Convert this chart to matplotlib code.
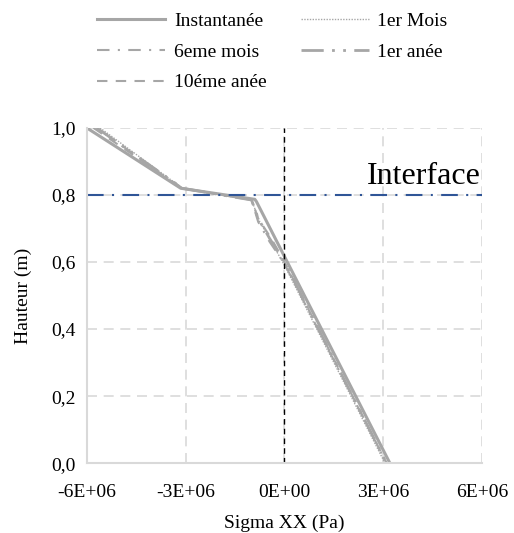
import matplotlib
matplotlib.use("Agg")
import matplotlib.pyplot as plt
from matplotlib.ticker import FuncFormatter, MultipleLocator

plt.rcParams['font.family'] = ['Liberation Serif', 'DejaVu Serif']

# series (Sigma XX in Pa, height in m)
series_names = ['Instantanée', '1er Mois', '6eme mois', '1er anée', '10éme anée']
sigma_inst = [-6.0e6, -3.15e6, -0.9e6, -0.85e6, 3.2e6]
h_inst = [1.0, 0.82, 0.787, 0.78, 0.0]
sigma_1m = [-5.6e6, -3.1e6, -1.0e6, -0.75e6, -0.4e6, 0.0, 3.05e6]
h_1m = [1.0, 0.82, 0.785, 0.72, 0.66, 0.59, 0.0]
sigma_6m = [-5.7e6, -3.1e6, -1.0e6, -0.8e6, -0.45e6, 0.0, 3.1e6]
h_6m = [1.0, 0.82, 0.785, 0.72, 0.66, 0.595, 0.0]
sigma_1a = [-5.7e6, -3.1e6, -1.0e6, -0.8e6, -0.45e6, 0.0, 3.1e6]
h_1a = [1.0, 0.82, 0.785, 0.73, 0.67, 0.60, 0.0]
sigma_10a = [-5.8e6, -3.1e6, -1.0e6, -0.8e6, -0.4e6, 0.0, 3.1e6]
h_10a = [1.0, 0.82, 0.785, 0.73, 0.67, 0.60, 0.0]
interface_h = 0.8

fig = plt.figure(figsize=(5.14, 5.33), dpi=100)
ax = fig.add_axes([0.169, 0.131, 0.769, 0.629])

grey = '#a6a6a6'
l0, = ax.plot(sigma_inst, h_inst, color=grey, lw=2.2, ls='-', label=series_names[0])
l1, = ax.plot(sigma_1m, h_1m, color=grey, lw=1.0, ls=(0, (1, 1)), label=series_names[1])
l2, = ax.plot(sigma_6m, h_6m, color=grey, lw=1.5, ls=(0, (6, 4, 1, 4)), label=series_names[2])
l3, = ax.plot(sigma_1a, h_1a, color=grey, lw=2.0, ls=(0, (8, 3, 1, 3, 1, 3)), label=series_names[3])
l4, = ax.plot(sigma_10a, h_10a, color=grey, lw=1.5, ls=(0, (5, 4)), label=series_names[4])

ax.axhline(interface_h, color='#2f5597', lw=1.5, ls=(0, (8, 4, 1, 4)))
ax.axvline(0, color='black', lw=1.0, ls=(0, (4, 3)))
ax.text(5.95e6, 0.812, 'Interface', ha='right', va='bottom', fontsize=23)

ax.set_xlim(-6e6, 6e6)
ax.set_ylim(0, 1)
ax.xaxis.set_major_locator(MultipleLocator(3e6))
ax.yaxis.set_major_locator(MultipleLocator(0.2))
ax.xaxis.set_major_formatter(FuncFormatter(lambda v, p: '%.0E' % v if v != 0 else '0E+00'))
ax.yaxis.set_major_formatter(FuncFormatter(lambda v, p: ('%.1f' % v).replace('.', ',')))
ax.tick_params(labelsize=14, length=0)
ax.tick_params(axis='x', pad=15)
ax.tick_params(axis='y', pad=8)
ax.grid(True, color='#d9d9d9', ls=(0, (6, 4)), lw=1.2)
ax.set_axisbelow(True)
for s in ['top', 'right']:
    ax.spines[s].set_visible(False)
for s in ['left', 'bottom']:
    ax.spines[s].set_color('#d9d9d9')
    ax.spines[s].set_linewidth(1.5)

ax.set_xlabel('Sigma XX (Pa)', fontsize=14, labelpad=10)
ax.set_ylabel('Hauteur (m)', fontsize=14, labelpad=14)

# column-major order so rows read Instantanée / 1er Mois, 6eme mois / 1er anée, 10éme anée
handles = [l0, l2, l4, l1, l3]
fig.legend(handles, [h.get_label() for h in handles], loc='upper left',
           bbox_to_anchor=(0.155, 1.01), ncol=2, frameon=False, fontsize=14,
           handlelength=3.5, columnspacing=1.75, labelspacing=0.68, handletextpad=0.45)

fig.savefig('out.png', dpi=100)
